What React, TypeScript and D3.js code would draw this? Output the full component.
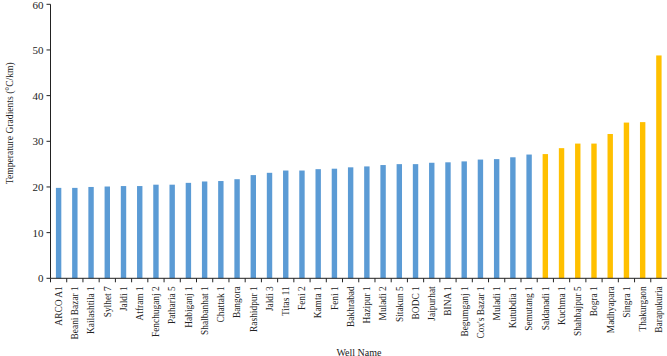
import React from "react";
import * as d3 from "d3";

const wells = [
  "ARCO A1", "Beani Bazar 1", "Kailashtila 1", "Sylhet 7", "Jaldi 1", "Atfram 1",
  "Fenchuganj 2", "Patharia 5", "Habiganj 1", "Shalbanhat 1", "Chattak 1", "Bangora",
  "Rashidpur 1", "Jaldi 3", "Titas 11", "Feni 2", "Kamta 1", "Feni 1", "Bakhrabad",
  "Hazipur 1", "Muladi 2", "Sitakun 5", "BODC 1", "Jaipurhat", "BINA 1", "Begumganj 1",
  "Cox's Bazar 1", "Muladi 1", "Kutubdia 1", "Semutang 1", "Saldanadi 1", "Kuchma 1",
  "Shahbajpur 5", "Bogra 1", "Madhyapara", "Singra 1", "Thakurgaon", "Barapukuria",
];
const gradients = [
  19.8, 19.8, 20.0, 20.1, 20.2, 20.2, 20.5, 20.5, 20.9, 21.2, 21.3, 21.7,
  22.6, 23.1, 23.6, 23.6, 23.9, 24.0, 24.3, 24.5, 24.8, 25.0, 25.0, 25.3,
  25.4, 25.6, 26.0, 26.1, 26.5, 27.1, 27.2, 28.5, 29.5, 29.5, 31.6, 34.1, 34.2, 48.8,
];
// group: 0 = blue series, 1 = yellow series
const groups = [
  0, 0, 0, 0, 0, 0, 0, 0, 0, 0, 0, 0, 0, 0, 0, 0, 0, 0, 0, 0, 0, 0, 0, 0, 0, 0, 0, 0, 0, 0,
  1, 1, 1, 1, 1, 1, 1, 1,
];
const yTicks = [0, 10, 20, 30, 40, 50, 60];

const W = 667;
const H = 356;
const left = 50.5;
const right = 667;
const top = 4.3;
const bottom = 278.3;
const font = "'Liberation Serif', 'Times New Roman', serif";

export default function App() {
  const x = d3.scaleBand<string>().domain(wells).range([left, right]).paddingInner(0).paddingOuter(0);
  const y = d3.scaleLinear().domain([0, 60]).range([bottom, top]);
  const bw = 5.4;
  const colors = ["#5B9BD5", "#FFC000"];
  return (
    <svg width={W} height={H} style={{ position: "absolute", left: 0, top: 0, background: "#fff" }}>
      {wells.map((w, i) => {
        const cx = (x(w) as number) + x.bandwidth() / 2;
        return (
          <rect key={w} x={cx - bw / 2} y={y(gradients[i])} width={bw} height={bottom - y(gradients[i])} fill={colors[groups[i]]} />
        );
      })}
      {/* y axis */}
      <line x1={left} x2={left} y1={top} y2={bottom} stroke="#222" strokeWidth={1} />
      {yTicks.map((t) => (
        <g key={t}>
          <line x1={left - 4} x2={left} y1={y(t)} y2={y(t)} stroke="#222" />
          <text x={left - 7} y={Math.max(y(t), 5)} dy="0.36em" textAnchor="end" fontFamily={font} fontSize={11} fill="#222">{t}</text>
        </g>
      ))}
      {/* x axis */}
      <line x1={left} x2={right} y1={bottom} y2={bottom} stroke="#222" />
      {wells.map((w, i) => (
        <line key={"t" + i} x1={x(w) as number} x2={x(w) as number} y1={bottom} y2={bottom + 4} stroke="#222" />
      ))}
      {wells.map((w) => {
        const cx = (x(w) as number) + x.bandwidth() / 2;
        return (
          <text key={"l" + w} transform={`translate(${cx + 3.3},${bottom + 8}) rotate(-90)`} textAnchor="end" fontFamily={font} fontSize={9.4} fill="#222">{w}</text>
        );
      })}
      <text x={359} y={355.5} textAnchor="middle" fontFamily={font} fontSize={10} fill="#222">Well Name</text>
      <text transform={`translate(13,${(top + bottom) / 2 - 18}) rotate(-90)`} textAnchor="middle" fontFamily={font} fontSize={9.6} fill="#222">Temperature Gradients (°C/km)</text>
    </svg>
  );
}
